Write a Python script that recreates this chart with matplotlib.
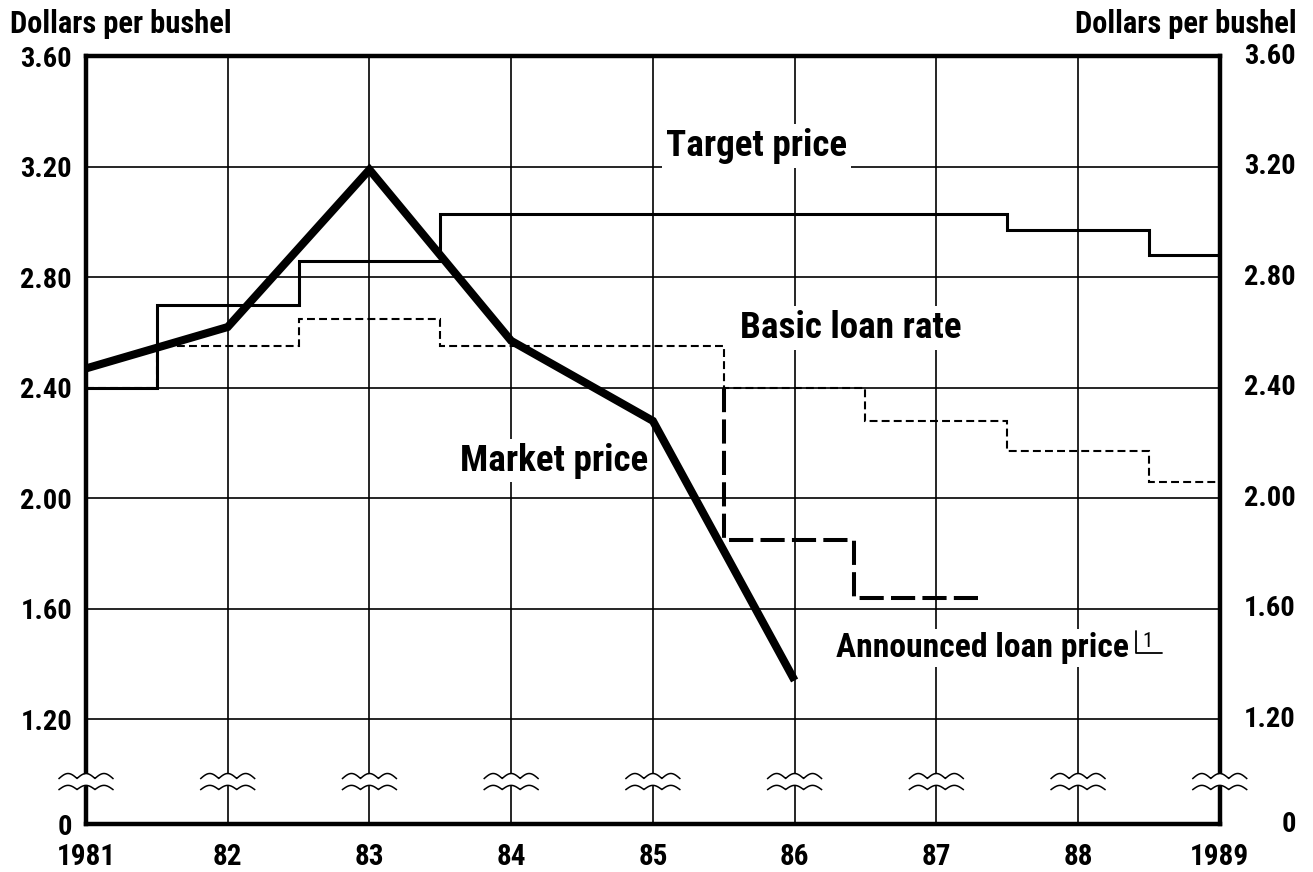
import matplotlib.pyplot as plt
from matplotlib.text import OffsetFrom
import numpy as np

plt.rcParams['font.family'] = ['Roboto Condensed', 'Open Sans Condensed', 'DejaVu Sans']
plt.rcParams['font.stretch'] = 'condensed'
plt.rcParams['font.weight'] = 'bold'

# x axis
years = [1981, 1982, 1983, 1984, 1985, 1986, 1987, 1988, 1989]
year_labels = ['1981', '82', '83', '84', '85', '86', '87', '88', '1989']

# y axis (broken between 0 and 1.20)
price_ticks = [1.20, 1.60, 2.00, 2.40, 2.80, 3.20, 3.60]

# step series: each value holds between consecutive edges
step_edges = [1981, 1981.5, 1982.5, 1983.5, 1984.5, 1985.5, 1986.5, 1987.5, 1988.5, 1989]
target_price = [2.40, 2.70, 2.86, 3.03, 3.03, 3.03, 3.03, 2.97, 2.88]
basic_loan_rate = [2.40, 2.55, 2.65, 2.55, 2.55, 2.40, 2.28, 2.17, 2.06]

announced_x = [1985.5, 1985.5, 1986.42, 1986.42, 1987.33]
announced_y = [2.40, 1.85, 1.85, 1.64, 1.64]

market_years = [1981, 1982, 1983, 1984, 1985, 1986]
market_price = [2.47, 2.62, 3.19, 2.57, 2.28, 1.34]

Y0 = 0.82      # where "0" sits on the broken axis
BREAK = 0.965  # centre of the break marks

fig = plt.figure(figsize=(13.13, 8.72), dpi=100)
ax = fig.add_axes([0.0655, 0.055, 0.8635, 0.8803])
renderer = fig.canvas.get_renderer()


def fit_size(s, width_px, max_pt):
    # the original type is narrow and letter-spaced: size text by its width
    t = fig.text(0, 0, s, fontsize=20)
    w = t.get_window_extent(renderer).width
    t.remove()
    return min(20 * width_px / w, max_pt)


lab_fs = fit_size('Basic loan rate', 221, 28)
ann_fs = fit_size('Announced loan price', 292, 28)
unit_fs = fit_size('Dollars per bushel', 273, 22)
tick_fs = fit_size('3.60', 60, 20.5)
year_fs = fit_size('1981', 60, 21)

ax.stairs(target_price, step_edges, baseline=None, color='black', lw=2.2, zorder=3)
ax.stairs(basic_loan_rate, step_edges, baseline=None, color='black', lw=1.5,
          linestyle=(0, (3.8, 2.0)), zorder=3)
ax.plot(announced_x, announced_y, color='black', lw=2.9, linestyle=(0, (6, 1.8)), zorder=3)
ax.plot(market_years, market_price, color='black', lw=5.8,
        solid_joinstyle='miter', solid_capstyle='butt', zorder=4)

ax.set_xlim(years[0], years[-1])
ax.set_ylim(Y0, price_ticks[-1])
ax.set_xticks(years, year_labels)
yticks = [Y0] + price_ticks
ylabels = ['0'] + [f'{v:.2f}' for v in price_ticks]
ax.set_yticks(yticks, ylabels)
ax.tick_params(axis='both', length=0)
ax.tick_params(axis='x', pad=14, labelsize=year_fs)
ax.tick_params(axis='y', pad=10, labelsize=tick_fs)
ax.grid(True, color='black', lw=1.2)
for s in ax.spines.values():
    s.set_linewidth(3.2)

# right-hand labels, right aligned
for v, lab in zip(yticks, ylabels):
    ax.text(1.067, v, lab, transform=ax.get_yaxis_transform(), ha='right', va='center',
            fontsize=tick_fs, clip_on=False)

# break marks on every vertical line
t = np.linspace(0, 1, 121)
for yr in years:
    xs = yr + (t - 0.5) * 0.38
    up = BREAK + 0.02 + 0.018 * np.abs(np.sin(3 * np.pi * t))
    lo = BREAK - 0.02 + 0.015 * np.abs(np.sin(3 * np.pi * t))
    ax.fill_between(xs, lo, up, color='white', lw=0, zorder=6, clip_on=False)
    ax.plot(xs, up, color='black', lw=1.1, zorder=7, clip_on=False)
    ax.plot(xs, lo, color='black', lw=1.1, zorder=7, clip_on=False)

box = dict(facecolor='white', edgecolor='none', boxstyle='square,pad=0.1')
ax.text(1985.73, 3.24, 'Target price', ha='center', va='baseline', fontsize=lab_fs,
        bbox=box, zorder=5)
ax.text(1986.40, 2.58, 'Basic loan rate', ha='center', va='baseline', fontsize=lab_fs,
        bbox=box, zorder=5)
ax.text(1984.30, 2.10, 'Market price', ha='center', va='baseline', fontsize=lab_fs,
        bbox=box, zorder=5)
ann = ax.text(1986.29, 1.425, 'Announced loan price', ha='left', va='baseline',
              fontsize=ann_fs, bbox=box, zorder=5)

# footnote mark: a small corner bracket holding a "1"
corner = OffsetFrom(ann, (1, 0))
ax.annotate('', xy=(24, 8), xycoords=corner, xytext=(5, 24), textcoords=corner,
            arrowprops=dict(arrowstyle='-', lw=1.3, color='black', shrinkA=0, shrinkB=0,
                            connectionstyle='angle,angleA=90,angleB=0,rad=0'), zorder=5)
ax.annotate('1', xy=(9.5, 9.5), xycoords=corner, ha='left', va='bottom', fontsize=15,
            fontweight='normal', zorder=5)

fig.text(10 / 1313, 1 - 33 / 872, 'Dollars per bushel', ha='left', va='baseline', fontsize=unit_fs)
fig.text(1297 / 1313, 1 - 33 / 872, 'Dollars per bushel', ha='right', va='baseline',
         fontsize=unit_fs)

fig.savefig('out.png', dpi=100)
